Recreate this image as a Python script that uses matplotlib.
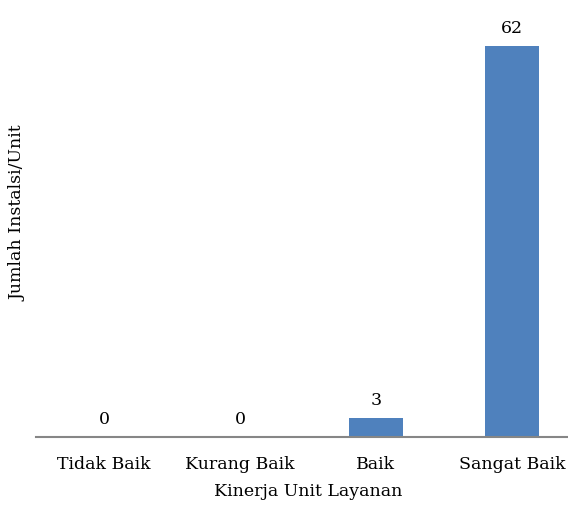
import numpy as np
import matplotlib.pyplot as plt

categories = ["Tidak Baik", "Kurang Baik", "Baik", "Sangat Baik"]
counts = [0, 0, 3, 62]

plt.rcParams["font.family"] = ["DejaVu Serif"]

fig = plt.figure(figsize=(5.68, 5.10), dpi=100)
ax = fig.add_axes([36 / 568, 72 / 510, 544 / 568, 416 / 510])

x = np.arange(len(categories))
bars = ax.bar(x, counts, width=0.4, color="#4F81BD")

ax.set_xlim(-0.5, len(categories) - 0.5)
ax.set_ylim(0, 66)

for xi, v in zip(x, counts):
    ax.annotate(str(v), (xi, v), xytext=(0, 7), textcoords="offset points",
                ha="center", va="bottom", fontsize=12.5, color="black")

for side in ["top", "right", "left"]:
    ax.spines[side].set_visible(False)
ax.spines["bottom"].set_color("#868686")
ax.spines["bottom"].set_linewidth(1.5)
ax.set_yticks([])
ax.set_xticks(x)
ax.set_xticklabels(categories, fontsize=12.5)
ax.tick_params(axis="x", length=0, pad=13)

ax.set_xlabel("Kinerja Unit Layanan", fontsize=12.5, labelpad=7)
fig.text(18 / 568, 1 - 213 / 510, "Jumlah Instalsi/Unit", rotation=90,
         ha="center", va="center", fontsize=12.5)

fig.savefig("out.png", dpi=100)
